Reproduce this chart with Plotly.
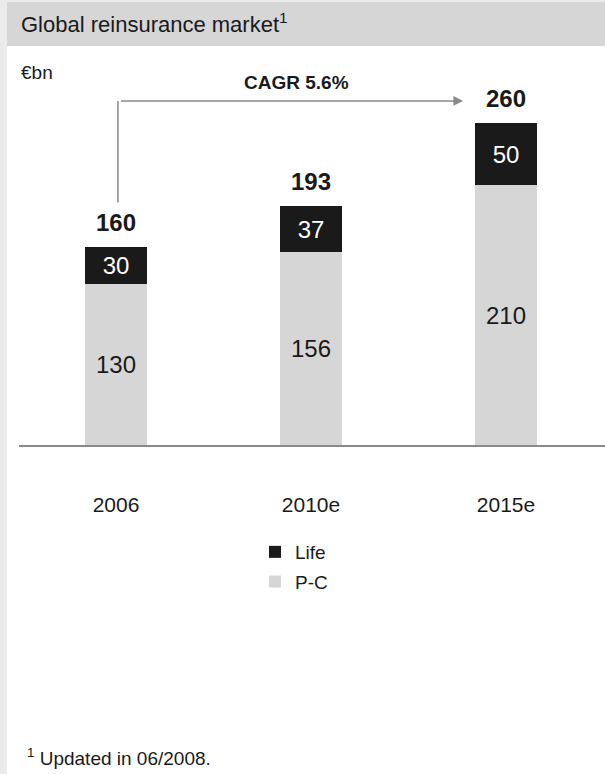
import plotly.graph_objects as go

# ---- data ----
categories = ["2006", "2010e", "2015e"]
life = [30, 37, 50]
pc = [130, 156, 210]
totals = [160, 193, 260]
cagr_label = "CAGR 5.6%"
title_text = "Global reinsurance market<sup>1</sup>"
unit_text = "€bn"
footnote_text = "<sup>1</sup> Updated in 06/2008."

W, H = 605, 774
FONT = "Liberation Sans, Arial, sans-serif"
DARK = "#1a1a1a"
LIGHT = "#d6d6d6"
GRAYLINE = "#8a8a8a"

x_idx = list(range(len(categories)))

fig = go.Figure()
fig.add_trace(go.Bar(
    x=x_idx, y=pc, name="P-C", marker=dict(color=LIGHT, line=dict(width=0)),
    text=[str(v) for v in pc], textposition="inside", insidetextanchor="middle",
    constraintext="none",
    textfont=dict(color=DARK, size=24, family=FONT), width=0.323,
    legendgroup="pc", legendrank=2, hoverinfo="skip"))
fig.add_trace(go.Bar(
    x=x_idx, y=life, name="Life", marker=dict(color=DARK, line=dict(width=0)),
    text=[str(v) for v in life], textposition="inside", insidetextanchor="middle",
    constraintext="none",
    textfont=dict(color="white", size=24, family=FONT), width=0.323,
    legendgroup="life", legendrank=1, hoverinfo="skip"))

# y scale: 0 at pixel 445, 1.2375 px per unit
y0_px, top_px = 445, 60
ppu = 1.2375
yr = (y0_px - top_px) / ppu

annotations = []
for i, t in enumerate(totals):
    annotations.append(dict(x=i, y=t, text=f"<b>{t}</b>", showarrow=False,
                            yanchor="bottom", yshift=9,
                            font=dict(size=24, color=DARK, family=FONT)))

# CAGR arrow
arrow_y = totals[-1] + 18
start_y = totals[0] + 36
x_start = 0.01
x_end = len(categories) - 1 - 0.22
shapes = [
    dict(type="line", xref="x", yref="y", x0=x_start, x1=x_start, y0=start_y, y1=arrow_y,
         line=dict(color=GRAYLINE, width=1.5)),
]
annotations.append(dict(x=x_end, y=arrow_y, ax=x_start, ay=arrow_y, axref="x", ayref="y",
                        xref="x", yref="y", text=" ", showarrow=True, arrowhead=2,
                        arrowsize=1.3, arrowwidth=1.5, arrowcolor=GRAYLINE, standoff=0))
annotations.append(dict(x=(x_start + x_end) / 2 + 0.03, y=arrow_y, text=f"<b>{cagr_label}</b>",
                        showarrow=False, yanchor="bottom", yshift=6,
                        font=dict(size=19, color=DARK, family=FONT)))

# title / unit / footnote
annotations.append(dict(xref="paper", yref="paper", x=19 / W, y=1 - 23 / H, text=title_text,
                        showarrow=False, xanchor="left", yanchor="middle",
                        font=dict(size=22, color=DARK, family=FONT)))
annotations.append(dict(xref="paper", yref="paper", x=19 / W, y=1 - 73 / H, text=unit_text,
                        showarrow=False, xanchor="left", yanchor="middle",
                        font=dict(size=19, color=DARK, family=FONT)))
annotations.append(dict(xref="paper", yref="paper", x=25 / W, y=1 - 757 / H, text=footnote_text,
                        showarrow=False, xanchor="left", yanchor="middle",
                        font=dict(size=19, color=DARK, family=FONT)))

# background decorations
shapes += [
    dict(type="rect", xref="paper", yref="paper", x0=0, x1=7 / W, y0=0, y1=1,
         fillcolor="#ebebeb", line=dict(width=0), layer="below"),
    dict(type="rect", xref="paper", yref="paper", x0=0, x1=1, y0=1 - 2 / H, y1=1,
         fillcolor="#ebebeb", line=dict(width=0), layer="below"),
    dict(type="rect", xref="paper", yref="paper", x0=7 / W, x1=1, y0=1 - 46 / H, y1=1 - 2 / H,
         fillcolor=LIGHT, line=dict(width=0), layer="below"),
]

x_left_px, x_c0_px, spacing = 19, 116, 195
x_range = [(x_left_px - x_c0_px) / spacing, (W - x_c0_px) / spacing]

fig.update_layout(
    width=W, height=H, margin=dict(l=0, r=0, t=0, b=0),
    paper_bgcolor="white", plot_bgcolor="rgba(0,0,0,0)",
    barmode="stack", font=dict(family=FONT, color=DARK),
    showlegend=True,
    legend=dict(x=255 / W, y=1 - 533 / H, xanchor="left", yanchor="top",
                font=dict(size=19, color=DARK, family=FONT), tracegroupgap=2,
                bgcolor="rgba(0,0,0,0)", itemclick=False),
    xaxis=dict(domain=[x_left_px / W, 1], range=x_range, tickmode="array",
               tickvals=x_idx, ticktext=categories, showgrid=False, zeroline=False,
               showline=True, linecolor=GRAYLINE, linewidth=2,
               ticks="outside", ticklen=40, tickcolor="rgba(0,0,0,0)",
               tickfont=dict(size=21, color=DARK, family=FONT), fixedrange=True),
    yaxis=dict(domain=[1 - y0_px / H, 1 - top_px / H], range=[0, yr], visible=False,
               showgrid=False, zeroline=False, fixedrange=True),
    shapes=shapes, annotations=annotations, bargap=0,
)

fig.write_html("out.html")
